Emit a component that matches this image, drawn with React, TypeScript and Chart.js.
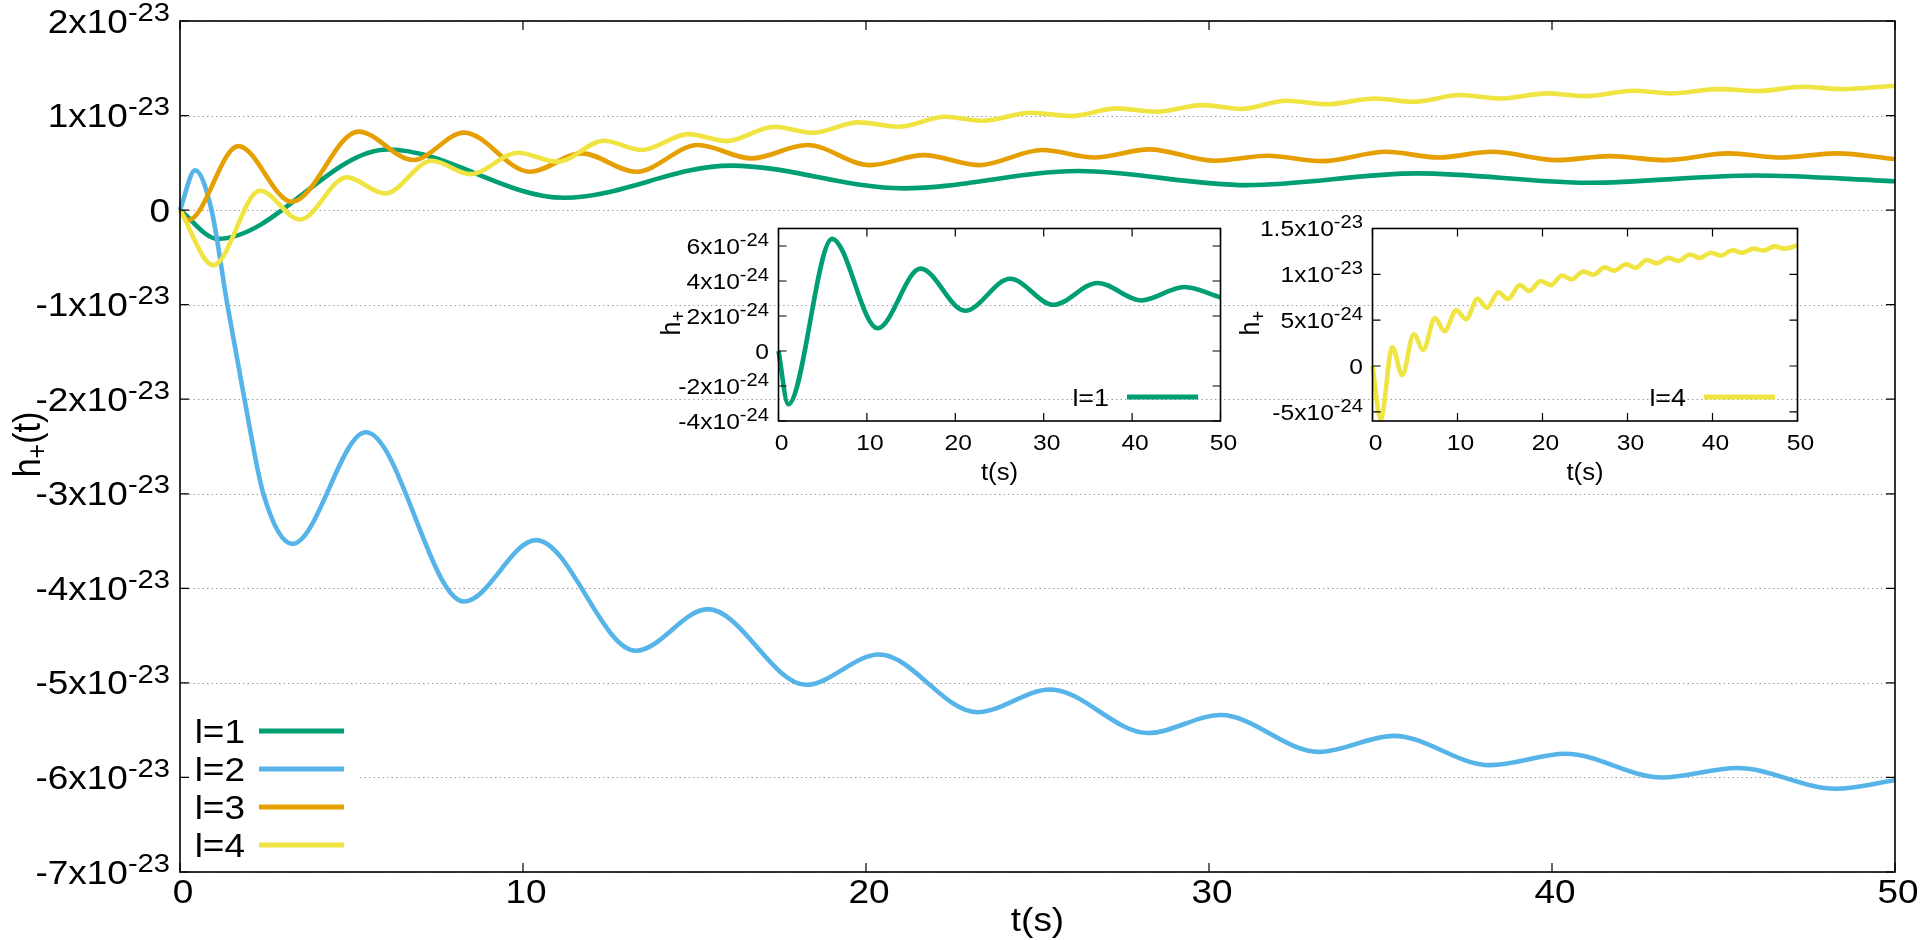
import React, { useEffect, useRef } from "react";
import { Chart, registerables } from "chart.js";

Chart.register(...registerables);

// ---------------- data ----------------
// l=1 (also shown in the left inset)
const L1_T = [0, 1.1, 6.06, 11.2, 16.06, 21.1, 26.2, 31.1, 36.1, 41.06, 45.9, 50];
const L1_H = [0, -3.04e-24, 6.41e-24, 1.3e-24, 4.71e-24, 2.3e-24, 4.13e-24, 2.64e-24, 3.89e-24, 2.89e-24, 3.66e-24, 3.06e-24];

// l=2
const L2_T = [0, 0.44, 0.92, 1.38, 1.88, 2.43, 3.28, 5.42, 8.28, 10.38, 13.29, 15.39, 18.25, 20.38, 23.24, 25.37, 28.22, 30.34, 33.2, 35.39, 38.19, 40.4, 43.2, 45.4, 48.28, 50];
const L2_H = [0, 4.2e-24, 0, -1e-23, -2e-23, -3e-23, -3.53e-23, -2.35e-23, -4.14e-23, -3.49e-23, -4.66e-23, -4.22e-23, -5.02e-23, -4.7e-23, -5.31e-23, -5.07e-23, -5.53e-23, -5.34e-23, -5.73e-23, -5.56e-23, -5.87e-23, -5.75e-23, -6e-23, -5.9e-23, -6.12e-23, -6.03e-23];

// l=3
const L3_T = [0, 0.24, 1.7, 3.26, 5.2, 6.8, 8.28, 10.2, 11.71, 13.3, 15.1, 16.66, 18.28, 20.12, 21.68, 23.28, 25.14, 26.65, 28.26, 30.16, 31.7, 33.31, 35.16, 36.7, 38.24, 40.15, 41.69, 43.3, 45.15, 46.69, 48.29, 50];
const L3_H = [0, -1.06e-24, 6.77e-24, 0.88e-24, 8.3e-24, 5.3e-24, 8.2e-24, 4.05e-24, 6.0e-24, 4.05e-24, 6.88e-24, 5.47e-24, 6.88e-24, 4.76e-24, 5.82e-24, 4.76e-24, 6.35e-24, 5.57e-24, 6.42e-24, 5.22e-24, 5.75e-24, 5.18e-24, 6.17e-24, 5.57e-24, 6.17e-24, 5.29e-24, 5.71e-24, 5.29e-24, 6.0e-24, 5.57e-24, 6.0e-24, 5.4e-24];

// l=4 (also shown in the right inset)
const L4_T = [0, 0.97, 2.33, 3.5, 4.86, 5.98, 7.34, 8.47, 9.86, 11.0, 12.36, 13.46, 14.82, 15.93, 17.33, 18.44, 19.78, 20.96, 22.3, 23.41, 24.8, 25.98, 27.31, 28.43, 29.82, 30.95, 32.26, 33.43, 34.85, 35.96, 37.32, 38.48, 39.84, 40.96, 42.37, 43.48, 44.84, 46.01, 47.31, 48.42, 50];
const L4_H = [0, -5.82e-24, 2.04e-24, -0.99e-24, 3.46e-24, 1.76e-24, 5.22e-24, 3.81e-24, 6.07e-24, 5.11e-24, 7.33e-24, 6.35e-24, 8.04e-24, 7.3e-24, 8.82e-24, 8.18e-24, 9.28e-24, 8.82e-24, 9.88e-24, 9.45e-24, 1.03e-23, 9.95e-24, 1.076e-23, 1.04e-23, 1.11e-23, 1.07e-23, 1.157e-23, 1.12e-23, 1.18e-23, 1.146e-23, 1.217e-23, 1.18e-23, 1.235e-23, 1.206e-23, 1.262e-23, 1.235e-23, 1.28e-23, 1.259e-23, 1.305e-23, 1.28e-23, 1.316e-23];

const SERIES_LABELS = ["l=1", "l=2", "l=3", "l=4"];

// ticks
const X_TICKS = [0, 10, 20, 30, 40, 50];
const X_TICK_LABELS = ["0", "10", "20", "30", "40", "50"];
const MAIN_Y_TICKS = [2e-23, 1e-23, 0, -1e-23, -2e-23, -3e-23, -4e-23, -5e-23, -6e-23, -7e-23];
const MAIN_Y_LABELS = ["2x10^-23", "1x10^-23", "0", "-1x10^-23", "-2x10^-23", "-3x10^-23", "-4x10^-23", "-5x10^-23", "-6x10^-23", "-7x10^-23"];
const IN1_Y_TICKS = [6e-24, 4e-24, 2e-24, 0, -2e-24, -4e-24];
const IN1_Y_LABELS = ["6x10^-24", "4x10^-24", "2x10^-24", "0", "-2x10^-24", "-4x10^-24"];
const IN2_Y_TICKS = [1.5e-23, 1e-23, 5e-24, 0, -5e-24];
const IN2_Y_LABELS = ["1.5x10^-23", "1x10^-23", "5x10^-24", "0", "-5x10^-24"];

// ---------------- layout & style ----------------
const W = 1920;
const H = 940;
const FONT = '"Liberation Sans", Arial, Helvetica, sans-serif';
const HS = 1.12;
const COLORS = ["#009E73", "#56B4E9", "#E69F00", "#F0E442"];
const MAIN_AREA = { l: 180, r: 1895, t: 21, b: 872 };
const IN1_AREA = { l: 778.5, r: 1220.5, t: 228.5, b: 421 };
const IN2_AREA = { l: 1372.5, r: 1797.5, t: 228.5, b: 421 };
const MAIN_FS = 33;
const MAIN_SUP = 26;
const IN_FS = 22;
const IN_SUP = 18;

function drawText(ctx: CanvasRenderingContext2D, s: string, x: number, y: number, size: number, align: "left" | "right" | "center" = "left") {
  ctx.save();
  ctx.font = `${size}px ${FONT}`;
  ctx.textBaseline = "alphabetic";
  ctx.textAlign = "left";
  const w = ctx.measureText(s).width * HS;
  const x0 = align === "left" ? x : align === "right" ? x - w : x - w / 2;
  ctx.translate(x0, y);
  ctx.scale(HS, 1);
  ctx.fillStyle = "#000";
  ctx.fillText(s, 0, 0);
  ctx.restore();
  return w;
}

function drawSupLabel(ctx: CanvasRenderingContext2D, label: string, xr: number, yc: number, size: number, supSize: number) {
  const [base, sup] = label.split("^");
  ctx.font = `${size}px ${FONT}`;
  const wb = ctx.measureText(base).width * HS;
  let ws = 0;
  if (sup) {
    ctx.font = `${supSize}px ${FONT}`;
    ws = ctx.measureText(sup).width * HS;
  }
  const x0 = xr - wb - ws;
  const by = yc + 0.35 * size;
  drawText(ctx, base, x0, by, size, "left");
  if (sup) drawText(ctx, sup, x0 + wb, by - 0.36 * size, supSize, "left");
}

function drawRotTitle(ctx: CanvasRenderingContext2D, parts: [string, number, number][], xBase: number, yc: number) {
  ctx.save();
  let total = 0;
  for (const [s, size] of parts) {
    ctx.font = `${size}px ${FONT}`;
    total += ctx.measureText(s).width;
  }
  ctx.translate(xBase, yc);
  ctx.scale(HS, 1);
  ctx.rotate(-Math.PI / 2);
  ctx.fillStyle = "#000";
  ctx.textBaseline = "alphabetic";
  ctx.textAlign = "left";
  let cx = -total / 2;
  for (const [s, size, dy] of parts) {
    ctx.font = `${size}px ${FONT}`;
    ctx.fillText(s, cx, dy);
    cx += ctx.measureText(s).width;
  }
  ctx.restore();
}

function drawFrame(chart: any, yTicks: number[], tickLen: number) {
  const ctx: CanvasRenderingContext2D = chart.ctx;
  const a = chart.chartArea;
  const xs = chart.scales.x;
  const ys = chart.scales.y;
  ctx.save();
  ctx.strokeStyle = "#000";
  ctx.setLineDash([]);
  ctx.lineWidth = 1.2;
  ctx.beginPath();
  for (const v of yTicks) {
    const y = ys.getPixelForValue(v);
    ctx.moveTo(a.left, y);
    ctx.lineTo(a.left + tickLen, y);
    ctx.moveTo(a.right, y);
    ctx.lineTo(a.right - tickLen, y);
  }
  for (const v of X_TICKS) {
    const x = xs.getPixelForValue(v);
    ctx.moveTo(x, a.bottom);
    ctx.lineTo(x, a.bottom - tickLen);
    ctx.moveTo(x, a.top);
    ctx.lineTo(x, a.top + tickLen);
  }
  ctx.stroke();
  ctx.lineWidth = 1.6;
  ctx.strokeRect(a.left, a.top, a.right - a.left, a.bottom - a.top);
  ctx.restore();
}

function lineDs(label: string, t: number[], h: number[], color: string, order: number) {
  return {
    label,
    data: t.map((x, i) => ({ x, y: h[i] })),
    borderColor: color,
    backgroundColor: color,
    borderWidth: 4.6,
    pointRadius: 0,
    cubicInterpolationMode: "monotone",
    fill: false,
    order,
    clip: 4,
  };
}

function baseOptions(area: { l: number; r: number; t: number; b: number }, yMin: number, yMax: number) {
  return {
    animation: false,
    responsive: false,
    events: [],
    layout: { padding: { left: area.l, right: W - area.r, top: area.t, bottom: H - area.b } },
    plugins: { legend: { display: false }, tooltip: { enabled: false } },
    scales: {
      x: { type: "linear", min: 0, max: 50, display: false },
      y: { type: "linear", min: yMin, max: yMax, display: false },
    },
  };
}

const mainDeco = {
  id: "mainDeco",
  beforeDatasetsDraw(chart: any) {
    const ctx: CanvasRenderingContext2D = chart.ctx;
    const a = chart.chartArea;
    const ys = chart.scales.y;
    ctx.save();
    ctx.strokeStyle = "#a0a0a0";
    ctx.lineWidth = 1;
    ctx.setLineDash([1.5, 3]);
    ctx.beginPath();
    for (const v of MAIN_Y_TICKS) {
      const y = Math.round(ys.getPixelForValue(v)) + 0.5;
      ctx.moveTo(a.left, y);
      ctx.lineTo(a.right, y);
    }
    ctx.stroke();
    ctx.restore();
  },
  afterDatasetsDraw(chart: any) {
    const ctx: CanvasRenderingContext2D = chart.ctx;
    const a = chart.chartArea;
    const xs = chart.scales.x;
    const ys = chart.scales.y;
    // opaque key
    ctx.save();
    ctx.fillStyle = "#fff";
    ctx.fillRect(a.left + 1, 712, 358 - a.left, 153);
    ctx.restore();
    SERIES_LABELS.forEach((lab, i) => {
      const yc = 731 + i * 38;
      drawText(ctx, lab, 245, yc + 11.5, MAIN_FS, "right");
      ctx.save();
      ctx.strokeStyle = COLORS[i];
      ctx.lineWidth = 5;
      ctx.beginPath();
      ctx.moveTo(259, yc);
      ctx.lineTo(344, yc);
      ctx.stroke();
      ctx.restore();
    });
    drawFrame(chart, MAIN_Y_TICKS, 9);
    MAIN_Y_TICKS.forEach((v, i) => drawSupLabel(ctx, MAIN_Y_LABELS[i], a.left - 10, ys.getPixelForValue(v), MAIN_FS, MAIN_SUP));
    X_TICKS.forEach((v, i) => drawText(ctx, X_TICK_LABELS[i], xs.getPixelForValue(v) + 3, a.bottom + 30.5, MAIN_FS, "center"));
    drawText(ctx, "t(s)", (a.left + a.right) / 2, 931, MAIN_FS, "center");
    drawRotTitle(ctx, [["h", 34, 0], ["+", 25, 6], ["(t)", 34, 0]], 39.5, (a.top + a.bottom) / 2 - 2);
  },
};

function insetDeco(id: string, yTicks: number[], yLabels: string[], titleOffset: number, legendLabel: string, legendColor: string) {
  return {
    id,
    afterDatasetsDraw(chart: any) {
      const ctx: CanvasRenderingContext2D = chart.ctx;
      const a = chart.chartArea;
      const xs = chart.scales.x;
      const ys = chart.scales.y;
      drawFrame(chart, yTicks, 8);
      yTicks.forEach((v, i) => drawSupLabel(ctx, yLabels[i], a.left - 9.5, ys.getPixelForValue(v), IN_FS, IN_SUP));
      X_TICKS.forEach((v, i) => drawText(ctx, X_TICK_LABELS[i], xs.getPixelForValue(v) + 3, a.bottom + 28.5, IN_FS, "center"));
      drawText(ctx, "t(s)", (a.left + a.right) / 2, a.bottom + 59, 23, "center");
      drawRotTitle(ctx, [["h", 25, 0], ["+", 18, 5]], a.left - titleOffset, (a.top + a.bottom) / 2 - 1.5);
      const ly = a.bottom - 24;
      drawText(ctx, legendLabel, a.right - 111.5, ly + 8.5, 24, "right");
      ctx.save();
      ctx.strokeStyle = legendColor;
      ctx.lineWidth = 5;
      ctx.beginPath();
      ctx.moveTo(a.right - 93.5, ly);
      ctx.lineTo(a.right - 22.5, ly);
      ctx.stroke();
      ctx.restore();
    },
  };
}

function mainConfig(): any {
  return {
    type: "line",
    data: {
      datasets: [
        lineDs(SERIES_LABELS[0], L1_T, L1_H, COLORS[0], 4),
        lineDs(SERIES_LABELS[1], L2_T, L2_H, COLORS[1], 3),
        lineDs(SERIES_LABELS[2], L3_T, L3_H, COLORS[2], 2),
        lineDs(SERIES_LABELS[3], L4_T, L4_H, COLORS[3], 1),
      ],
    },
    options: baseOptions(MAIN_AREA, -7e-23, 2e-23),
    plugins: [mainDeco],
  };
}

function inset1Config(): any {
  return {
    type: "line",
    data: { datasets: [lineDs(SERIES_LABELS[0], L1_T, L1_H, COLORS[0], 1)] },
    options: baseOptions(IN1_AREA, -4e-24, 7e-24),
    plugins: [insetDeco("in1Deco", IN1_Y_TICKS, IN1_Y_LABELS, 99, SERIES_LABELS[0], COLORS[0])],
  };
}

function inset2Config(): any {
  return {
    type: "line",
    data: { datasets: [lineDs(SERIES_LABELS[3], L4_T, L4_H, COLORS[3], 1)] },
    options: baseOptions(IN2_AREA, -6e-24, 1.5e-23),
    plugins: [insetDeco("in2Deco", IN2_Y_TICKS, IN2_Y_LABELS, 113.5, SERIES_LABELS[3], COLORS[3])],
  };
}

export default function App() {
  const mainRef = useRef<HTMLCanvasElement>(null);
  const in1Ref = useRef<HTMLCanvasElement>(null);
  const in2Ref = useRef<HTMLCanvasElement>(null);

  useEffect(() => {
    const charts = [
      new Chart(mainRef.current as HTMLCanvasElement, mainConfig()),
      new Chart(in1Ref.current as HTMLCanvasElement, inset1Config()),
      new Chart(in2Ref.current as HTMLCanvasElement, inset2Config()),
    ];
    return () => charts.forEach((c) => c.destroy());
  }, []);

  const cs: React.CSSProperties = { position: "absolute", left: 0, top: 0, width: W, height: H };
  return (
    <div style={{ position: "absolute", left: 0, top: 0, width: W, height: H, background: "#fff", overflow: "hidden" }}>
      <canvas ref={mainRef} width={W} height={H} style={cs} />
      <canvas ref={in1Ref} width={W} height={H} style={cs} />
      <canvas ref={in2Ref} width={W} height={H} style={cs} />
    </div>
  );
}
